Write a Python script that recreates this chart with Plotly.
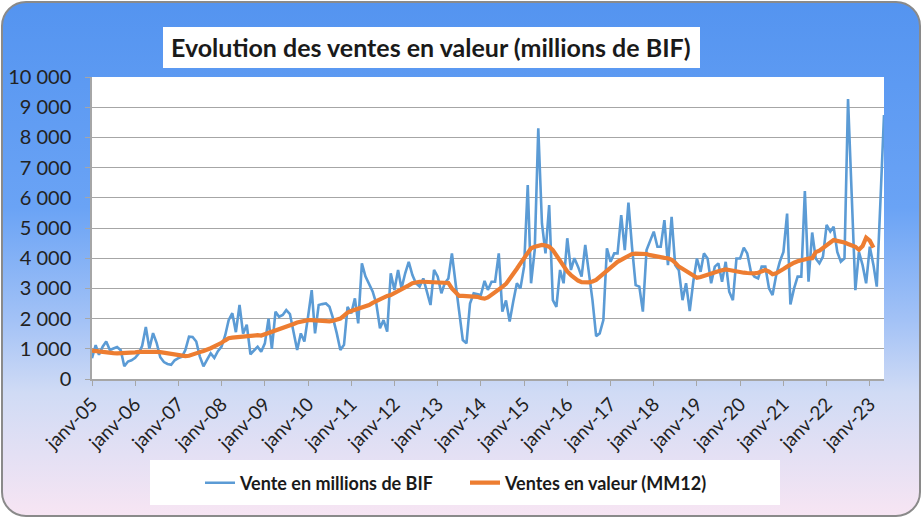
import base64
import pandas as pd
import plotly.graph_objects as go

# ---------------- data (millions de BIF) ----------------
v2005 = [690, 1120, 800, 1070, 1240, 960, 1010, 1060, 950, 420, 580, 620]
v2006 = [700, 850, 1100, 1720, 1000, 1520, 1200, 720, 560, 500, 470, 620]
v2007 = [690, 740, 960, 1400, 1390, 1240, 750, 420, 640, 850, 700, 920]
v2008 = [1070, 1450, 1950, 2180, 1550, 2450, 1500, 1800, 820, 960, 1070, 900]
v2009 = [1180, 2000, 1000, 2230, 2060, 2120, 2280, 2150, 1600, 960, 1510, 1240]
v2010 = [2060, 2940, 1510, 2450, 2480, 2500, 2390, 2000, 1510, 960, 1130, 2390]
v2011 = [2170, 2670, 1840, 3830, 3400, 3170, 2900, 2500, 1680, 1950, 1570, 3500]
v2012 = [2950, 3610, 3000, 3500, 3880, 3440, 3170, 3060, 3330, 2900, 2450, 3610]
v2013 = [3390, 2840, 3170, 3330, 4160, 3170, 2280, 1290, 1180, 2500, 2840, 2800]
v2014 = [2780, 3250, 2950, 3220, 3220, 4160, 2230, 2600, 1900, 2560, 3170, 3000]
v2015 = [3720, 6420, 3170, 4270, 8300, 5150, 4160, 5760, 2610, 2390, 3610, 3170]
v2016 = [4660, 3610, 4000, 3720, 3390, 4440, 3610, 2610, 1420, 1510, 1950, 4330]
v2017 = [3880, 4160, 4160, 5430, 4270, 5840, 4380, 3110, 3060, 2230, 4270, 4550]
v2018 = [4880, 4380, 4380, 5260, 3770, 5370, 3770, 3600, 2610, 3170, 2250, 3220]
v2019 = [3990, 3550, 4160, 3990, 3170, 3720, 3830, 3220, 3880, 2890, 2610, 3990]
v2020 = [3990, 4350, 4160, 3550, 3390, 3330, 3720, 3720, 3000, 2780, 3440, 3880]
v2021 = [4210, 5480, 2470, 3000, 3390, 3390, 6220, 3220, 4850, 3990, 3830, 4050]
v2022 = [5100, 4880, 5040, 4210, 3880, 3990, 9270, 6100, 2940, 4210, 3770, 3170]
v2023 = [4380, 3770, 3060, 5900, 8740]

m2005 = [940, 920, 900, 880, 870, 860, 855, 850, 850, 850, 855, 860]
m2006 = [880, 900, 905, 910, 910, 905, 900, 890, 870, 850, 830, 815]
m2007 = [800, 780, 760, 770, 800, 850, 890, 930, 960, 1020, 1080, 1130]
m2008 = [1200, 1280, 1350, 1370, 1380, 1390, 1400, 1420, 1440, 1460, 1450, 1440]
m2009 = [1480, 1520, 1570, 1600, 1640, 1680, 1730, 1780, 1820, 1870, 1900, 1930]
m2010 = [1950, 1950, 1940, 1920, 1900, 1900, 1910, 1930, 1960, 2000, 2100, 2200]
m2011 = [2250, 2290, 2330, 2370, 2400, 2450, 2520, 2580, 2650, 2720, 2750, 2780]
m2012 = [2840, 2900, 2950, 3020, 3100, 3170, 3200, 3220, 3220, 3210, 3200, 3190]
m2013 = [3190, 3190, 3190, 3180, 3000, 2850, 2750, 2750, 2750, 2750, 2740, 2720]
m2014 = [2680, 2660, 2700, 2780, 2880, 2950, 3050, 3150, 3300, 3450, 3650, 3830]
m2015 = [4000, 4170, 4330, 4380, 4420, 4440, 4420, 4380, 4270, 4100, 3920, 3720]
m2016 = [3560, 3440, 3330, 3260, 3210, 3190, 3200, 3230, 3280, 3380, 3490, 3610]
m2017 = [3700, 3790, 3880, 3940, 4020, 4090, 4140, 4150, 4150, 4150, 4140, 4100]
m2018 = [4070, 4040, 4020, 4010, 4000, 3950, 3850, 3720, 3650, 3580, 3500, 3420]
m2019 = [3350, 3380, 3420, 3460, 3500, 3540, 3570, 3600, 3630, 3610, 3580, 3550]
m2020 = [3540, 3520, 3510, 3500, 3500, 3520, 3560, 3610, 3560, 3470, 3500, 3590]
m2021 = [3640, 3720, 3800, 3850, 3900, 3940, 3960, 3990, 4000, 4200, 4250, 4330]
m2022 = [4400, 4520, 4600, 4580, 4560, 4520, 4470, 4430, 4380, 4280, 4400, 4680]
m2023 = [4580, 4350, None, None, None]

ventes = (v2005 + v2006 + v2007 + v2008 + v2009 + v2010 + v2011 + v2012 + v2013
          + v2014 + v2015 + v2016 + v2017 + v2018 + v2019 + v2020 + v2021 + v2022 + v2023)
mm12 = (m2005 + m2006 + m2007 + m2008 + m2009 + m2010 + m2011 + m2012 + m2013
        + m2014 + m2015 + m2016 + m2017 + m2018 + m2019 + m2020 + m2021 + m2022 + m2023)

months = pd.date_range("2005-01-01", periods=len(ventes), freq="MS")

x_tick_years = list(range(2005, 2024))
x_tick_labels = ["janv-%02d" % (y % 100) for y in x_tick_years]
y_tick_values = [0, 1000, 2000, 3000, 4000, 5000, 6000, 7000, 8000, 9000, 10000]
y_tick_labels = ["0", "1 000", "2 000", "3 000", "4 000", "5 000", "6 000",
                 "7 000", "8 000", "9 000", "10 000"]

title_text = "Evolution des ventes en valeur (millions de BIF)"
name_blue = "Vente en millions de BIF"
name_orange = "Ventes en valeur (MM12)"

# ---------------- layout geometry ----------------
W, H = 922, 518
L, R, T, B = 92, 38, 77, 139
PW, PH = W - L - R, H - T - B
FONT = "Lato, Carlito, Calibri, 'Noto Sans', sans-serif"


def px_x(p):
    return (p - L) / PW


def px_y(p):
    return (H - B - p) / PH


svg = f"""<svg xmlns='http://www.w3.org/2000/svg' width='{W}' height='{H}' viewBox='0 0 {W} {H}' preserveAspectRatio='none'>
<defs><linearGradient id='g' x1='0' y1='0' x2='0' y2='1'>
<stop offset='0' stop-color='#5494f0'/>
<stop offset='0.40' stop-color='#6aa3f5'/>
<stop offset='0.62' stop-color='#a3c2f6'/>
<stop offset='0.76' stop-color='#d0dbf5'/>
<stop offset='1' stop-color='#f7e5f3'/>
</linearGradient></defs>
<rect x='0' y='0' width='{W}' height='{H}' fill='white'/>
<rect x='2' y='2' width='{W-4}' height='{H-4}' rx='24' ry='24' fill='url(#g)' stroke='#8a8a8a' stroke-width='2'/>
</svg>"""
bg_src = "data:image/svg+xml;base64," + base64.b64encode(svg.encode()).decode()

fig = go.Figure()
fig.add_trace(go.Scatter(x=months, y=ventes, mode="lines", name=name_blue,
                         line=dict(color="#5b9bd5", width=2.6)))
fig.add_trace(go.Scatter(x=months, y=mm12, mode="lines", name=name_orange,
                         line=dict(color="#ed7d31", width=4.2)))

fig.update_layout(
    width=W, height=H,
    margin=dict(l=L, r=R, t=T, b=B, pad=0, autoexpand=False),
    paper_bgcolor="white",
    plot_bgcolor="white",
    font=dict(family=FONT, color="#222222"),
    showlegend=True,
    legend=dict(orientation="h", x=px_x(200), y=px_y(483), xanchor="left", yanchor="middle",
                bgcolor="rgba(0,0,0,0)", font=dict(size=18, family=FONT, color="#1a1a1a",
                                                   weight="bold"),
                entrywidth=220, entrywidthmode="pixels", tracegroupgap=0),
    images=[dict(source=bg_src, xref="paper", yref="paper", x=px_x(0), y=px_y(0),
                 sizex=W / PW, sizey=H / PH, xanchor="left", yanchor="top",
                 sizing="stretch", layer="below")],
    shapes=[
        dict(type="rect", xref="paper", yref="paper", x0=0, x1=1, y0=0, y1=1,
             fillcolor="white", line=dict(width=0), layer="below"),
        dict(type="rect", xref="paper", yref="paper", x0=px_x(163), x1=px_x(700),
             y0=px_y(68), y1=px_y(27), fillcolor="white", line=dict(width=0), layer="below"),
        dict(type="rect", xref="paper", yref="paper", x0=px_x(150), x1=px_x(780),
             y0=px_y(505), y1=px_y(460), fillcolor="white", line=dict(width=0), layer="below"),
    ],
    annotations=[
        dict(text=title_text, xref="paper", yref="paper", x=px_x(431), y=px_y(47),
             xanchor="center", yanchor="middle", showarrow=False,
             font=dict(size=25, family=FONT, color="#1a1a1a", weight="bold")),
    ],
)

fig.update_xaxes(
    range=[months[0], months[-1]],
    tickvals=[pd.Timestamp(f"{y}-01-01") for y in x_tick_years],
    ticktext=x_tick_labels,
    tickangle=-45,
    tickfont=dict(size=19, family=FONT, color="#222222"),
    ticks="outside", ticklen=5, tickcolor="#a6a6a6",
    showline=True, linecolor="#a6a6a6", linewidth=1.5,
    showgrid=False, zeroline=False, fixedrange=True, automargin=False,
)
fig.update_yaxes(
    range=[0, 10000],
    tickvals=y_tick_values,
    ticktext=y_tick_labels,
    tickfont=dict(size=20, family=FONT, color="#222222"),
    ticks="outside", ticklen=5, tickcolor="#a6a6a6", ticklabelstandoff=10,
    showline=True, linecolor="#a6a6a6", linewidth=1.5,
    showgrid=True, gridcolor="#a6a6a6", gridwidth=1.3,
    zeroline=False, fixedrange=True, automargin=False,
)

fig.write_html("out.html", config={"displayModeBar": False},
               post_script="document.body.style.margin='0';")
